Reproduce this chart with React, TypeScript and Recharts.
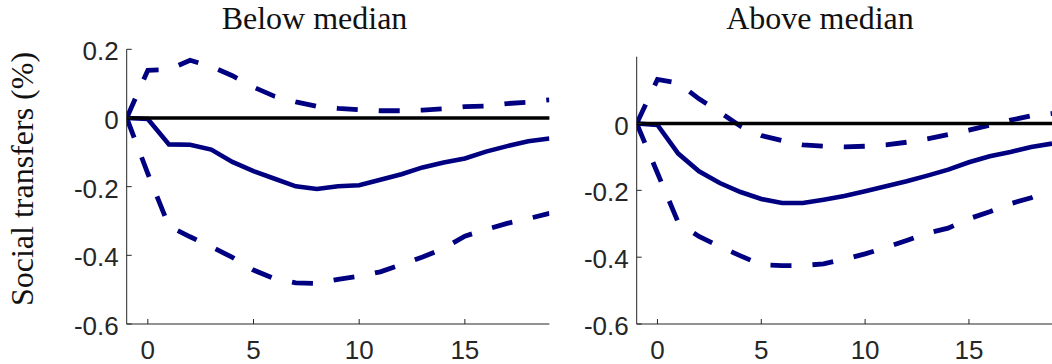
import React from 'react';
import { LineChart, Line, XAxis, YAxis, ReferenceLine } from 'recharts';

// Horizons (quarters after the shock)
const horizons = [-1, 0, 1, 2, 3, 4, 5, 6, 7, 8, 9, 10, 11, 12, 13, 14, 15, 16, 17, 18, 19];

// Below-median group: point estimate and confidence bands
const belowMid = [0, -0.003, -0.077, -0.078, -0.092, -0.128, -0.155, -0.177, -0.199, -0.207, -0.199, -0.196, -0.18, -0.164, -0.144, -0.13, -0.118, -0.098, -0.082, -0.068, -0.06];
const belowUpper = [0, 0.139, 0.141, 0.168, 0.15, 0.123, 0.09, 0.063, 0.047, 0.034, 0.028, 0.024, 0.021, 0.021, 0.023, 0.027, 0.033, 0.035, 0.042, 0.046, 0.053];
const belowLower = [0, -0.162, -0.315, -0.346, -0.375, -0.406, -0.443, -0.468, -0.48, -0.482, -0.47, -0.461, -0.448, -0.427, -0.405, -0.38, -0.344, -0.325, -0.307, -0.293, -0.278];

// Above-median group
const aboveMid = [0, -0.004, -0.09, -0.143, -0.178, -0.205, -0.226, -0.238, -0.238, -0.228, -0.217, -0.203, -0.188, -0.173, -0.156, -0.138, -0.116, -0.098, -0.085, -0.07, -0.06];
const aboveUpper = [0, 0.132, 0.121, 0.074, 0.034, -0.008, -0.036, -0.051, -0.064, -0.068, -0.07, -0.068, -0.064, -0.056, -0.046, -0.033, -0.02, -0.005, 0.01, 0.023, 0.03];
const aboveLower = [0, -0.148, -0.296, -0.338, -0.368, -0.396, -0.423, -0.425, -0.425, -0.42, -0.406, -0.39, -0.371, -0.35, -0.328, -0.313, -0.285, -0.264, -0.24, -0.222, -0.197];

const xTicks = [0, 5, 10, 15];
const belowYTicks = [-0.6, -0.4, -0.2, 0, 0.2];
const aboveYTicks = [-0.6, -0.4, -0.2, 0];
const panelTitles = ['Below median', 'Above median'];
const yAxisLabel = 'Social transfers (%)';

const NAVY = '#000080';
const AXIS = '#262626';
const SANS = '"Liberation Sans", Arial, Helvetica, sans-serif';
const SERIF = '"Liberation Serif", "Times New Roman", serif';

const buildRows = (mid: number[], upper: number[], lower: number[]) =>
  horizons.map((h, i) => ({ h, mid: mid[i], upper: upper[i], lower: lower[i] }));

const belowRows = buildRows(belowMid, belowUpper, belowLower);
const aboveRows = buildRows(aboveMid, aboveUpper, aboveLower);

// Inward-pointing ticks, MATLAB style
const XTick = (props: any) => {
  const { x, y, payload } = props;
  return (
    <g>
      <line x1={x} x2={x} y1={y} y2={y - 5} stroke={AXIS} strokeWidth={1} />
      <text x={x} y={y + 35} textAnchor="middle" fontSize={26} fontFamily={SANS} fill={AXIS}>
        {String(payload.value)}
      </text>
    </g>
  );
};

const YTick = (props: any) => {
  const { x, y, payload } = props;
  return (
    <g>
      <line x1={x} x2={x + 5} y1={y} y2={y} stroke={AXIS} strokeWidth={1} />
      <text x={x - 8} y={y + 11} textAnchor="end" fontSize={26} fontFamily={SANS} fill={AXIS}>
        {String(payload.value)}
      </text>
    </g>
  );
};

type PanelProps = {
  rows: { h: number; mid: number; upper: number; lower: number }[];
  yTicks: number[];
  width: number;
  axisWidth: number;
  top: number;
  right: number;
};

const Panel = ({ rows, yTicks, width, axisWidth, top, right }: PanelProps) => (
  <LineChart width={width} height={364} data={rows} margin={{ top, right, bottom: 0, left: 0 }}>
    <XAxis
      dataKey="h"
      type="number"
      domain={[-1, 19]}
      ticks={xTicks}
      interval={0}
      height={40}
      tickSize={0}
      tickMargin={0}
      tickLine={false}
      tick={<XTick />}
      axisLine={{ stroke: AXIS, strokeWidth: 1 }}
      allowDataOverflow
    />
    <YAxis
      type="number"
      domain={[-0.6, 0.2]}
      ticks={yTicks}
      interval={0}
      width={axisWidth}
      tickSize={0}
      tickMargin={0}
      tickLine={false}
      tick={<YTick />}
      axisLine={{ stroke: AXIS, strokeWidth: 1 }}
      allowDataOverflow
    />
    <Line dataKey="upper" stroke={NAVY} strokeWidth={4.8} strokeDasharray="21 21" dot={false} activeDot={false} isAnimationActive={false} />
    <Line dataKey="lower" stroke={NAVY} strokeWidth={4.8} strokeDasharray="21 21" dot={false} activeDot={false} isAnimationActive={false} />
    <Line dataKey="mid" stroke={NAVY} strokeWidth={4.6} dot={false} activeDot={false} isAnimationActive={false} />
    <ReferenceLine y={0} stroke="#000" strokeWidth={3.6} />
  </LineChart>
);

export default function App() {
  return (
    <div style={{ position: 'absolute', left: 0, top: 0, width: 1052, height: 364, background: '#fff', overflow: 'hidden' }}>
      <div style={{ position: 'absolute', left: 0, top: 0 }}>
        <Panel rows={belowRows} yTicks={belowYTicks} width={560} axisWidth={126.7} top={49.3} right={10.6} />
      </div>
      <div style={{ position: 'absolute', left: 560, top: 0 }}>
        <Panel rows={aboveRows} yTicks={aboveYTicks} width={492} axisWidth={76.7} top={56.7} right={0} />
      </div>
      <svg width={1052} height={364} style={{ position: 'absolute', left: 0, top: 0, pointerEvents: 'none' }}>
        <text x={314.5} y={29.3} textAnchor="middle" fontSize={32} fontFamily={SERIF} fill="#111">
          {panelTitles[0]}
        </text>
        <text x={820} y={29.3} textAnchor="middle" fontSize={32} fontFamily={SERIF} fill="#111">
          {panelTitles[1]}
        </text>
        <text transform="translate(33,179) rotate(-90)" textAnchor="middle" fontSize={32} fontFamily={SERIF} fill="#111">
          {yAxisLabel}
        </text>
      </svg>
    </div>
  );
}
